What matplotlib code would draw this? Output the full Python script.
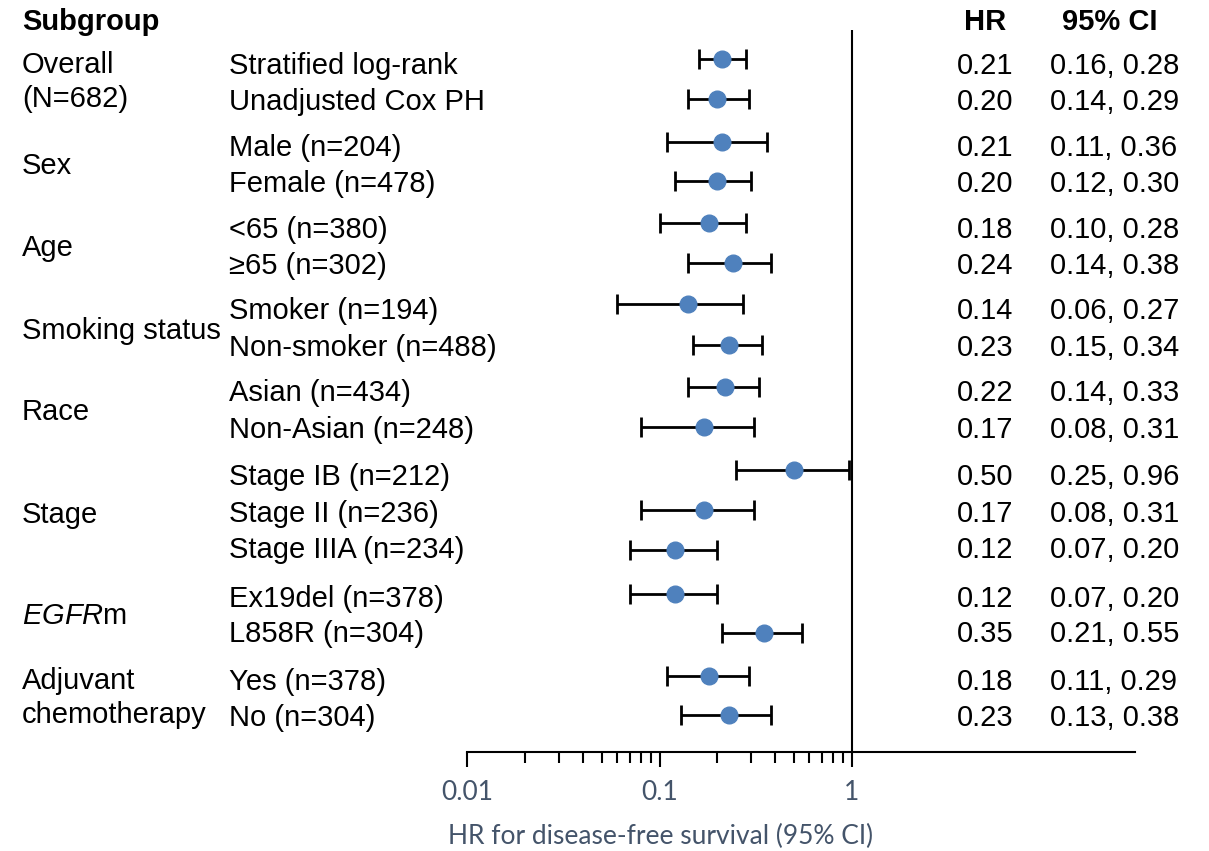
import matplotlib
matplotlib.use("Agg")
import matplotlib.pyplot as plt
from matplotlib.ticker import FixedLocator, NullFormatter
import numpy as np

plt.rcParams['font.family'] = ['Liberation Sans', 'DejaVu Sans']
plt.rcParams['mathtext.fontset'] = 'custom'
plt.rcParams['mathtext.rm'] = 'Liberation Sans'
plt.rcParams['mathtext.it'] = 'Liberation Sans:italic'
plt.rcParams['mathtext.bf'] = 'Liberation Sans:bold'

# ---------------- data ----------------
groups = ["Overall\n(N=682)", "Sex", "Age", "Smoking status", "Race", "Stage",
          r"$\it{EGFR}$m", "Adjuvant\nchemotherapy"]
subgroups = ["Stratified log-rank", "Unadjusted Cox PH",
             "Male (n=204)", "Female (n=478)",
             "<65 (n=380)", "\u226565 (n=302)",
             "Smoker (n=194)", "Non-smoker (n=488)",
             "Asian (n=434)", "Non-Asian (n=248)",
             "Stage IB (n=212)", "Stage II (n=236)", "Stage IIIA (n=234)",
             "Ex19del (n=378)", "L858R (n=304)",
             "Yes (n=378)", "No (n=304)"]
hr = [0.21, 0.20, 0.21, 0.20, 0.18, 0.24, 0.14, 0.23, 0.22, 0.17,
      0.50, 0.17, 0.12, 0.12, 0.35, 0.18, 0.23]
ci_low = [0.16, 0.14, 0.11, 0.12, 0.10, 0.14, 0.06, 0.15, 0.14, 0.08,
          0.25, 0.08, 0.07, 0.07, 0.21, 0.11, 0.13]
ci_high = [0.28, 0.29, 0.36, 0.30, 0.28, 0.38, 0.27, 0.34, 0.33, 0.31,
           0.96, 0.31, 0.20, 0.20, 0.55, 0.29, 0.38]
x_ticks = [0.01, 0.1, 1]
x_tick_labels = ["0.01", "0.1", "1"]
x_label = "HR for disease-free survival (95% CI)"

# ---------------- layout (pixel units) ----------------
W, H = 1209, 851
row_y = [59, 99, 142, 181, 223, 263, 304, 345, 387, 427, 470, 510, 550,
         594, 633, 676, 715]
text_y = [66, 102, 148, 184, 230, 266, 311, 348, 393, 430, 477, 514, 550,
          599, 634, 682, 718]
group_y = [82, 166, 248, 331, 412, 515, 616, 698]
ax_left_px, ax_right_px, ax_top_px, ax_bottom_px = 467, 1135, 30, 752
px_per_decade = (852 - 467) / 2.0

fig = plt.figure(figsize=(W / 100, H / 100), dpi=100)

# text overlay axes in pixel coordinates
tax = fig.add_axes([0, 0, 1, 1])
tax.set_xlim(0, W)
tax.set_ylim(H, 0)
tax.axis('off')

fs = 21
tax.text(22, 22, "Subgroup", fontsize=fs, fontweight='bold', va='center', ha='left')
tax.text(985, 22, "HR", fontsize=fs, fontweight='bold', va='center', ha='center')
tax.text(1110, 22, "95% CI", fontsize=fs, fontweight='bold', va='center', ha='center')

for g, gy in zip(groups, group_y):
    tax.text(22, gy, g, fontsize=fs, va='center', ha='left', linespacing=1.3)

for s, ty, h, lo, hi in zip(subgroups, text_y, hr, ci_low, ci_high):
    tax.text(229, ty, s, fontsize=fs, va='center', ha='left')
    tax.text(957, ty, f"{h:.2f}", fontsize=fs, va='center', ha='left')
    tax.text(1050, ty, f"{lo:.2f}, {hi:.2f}", fontsize=fs, va='center', ha='left')

# forest axes
ax = fig.add_axes([ax_left_px / W, 1 - ax_bottom_px / H,
                   (ax_right_px - ax_left_px) / W, (ax_bottom_px - ax_top_px) / H])
ax.set_xscale('log')
xmax = 10 ** ((ax_right_px - ax_left_px) / px_per_decade - 2)
ax.set_xlim(0.01, xmax)
ax.set_ylim(ax_bottom_px, ax_top_px)
ax.patch.set_alpha(0)

hr_a = np.array(hr)
err = np.vstack([hr_a - np.array(ci_low), np.array(ci_high) - hr_a])
ax.errorbar(hr, row_y, xerr=err, fmt='o', color='#4F81BD', markersize=12,
            ecolor='black', elinewidth=2.0, capsize=7, capthick=2.0, zorder=3)

ax.axvline(1, color='black', linewidth=1.5, zorder=1)

for sp in ['top', 'right', 'left']:
    ax.spines[sp].set_visible(False)
ax.spines['bottom'].set_linewidth(1.5)
ax.set_yticks([])

minor = [m * d for d in (0.01, 0.1) for m in range(2, 10)]
ax.xaxis.set_major_locator(FixedLocator(x_ticks))
ax.xaxis.set_minor_locator(FixedLocator(minor))
ax.xaxis.set_minor_formatter(NullFormatter())
ax.set_xticklabels(x_tick_labels)
ax.tick_params(axis='x', which='major', length=11, width=1.5, direction='out',
               pad=9, labelsize=19, labelcolor='#44546A')
ax.tick_params(axis='x', which='minor', length=8, width=1.5, direction='out')
for lbl in ax.get_xticklabels():
    lbl.set_fontfamily(['Lato', 'DejaVu Sans'])

fig.text(661 / W, 1 - 836 / H, x_label, fontsize=19, color='#44546A',
         family=['Lato', 'DejaVu Sans'], ha='center', va='center')

fig.savefig("out.png", dpi=100)
